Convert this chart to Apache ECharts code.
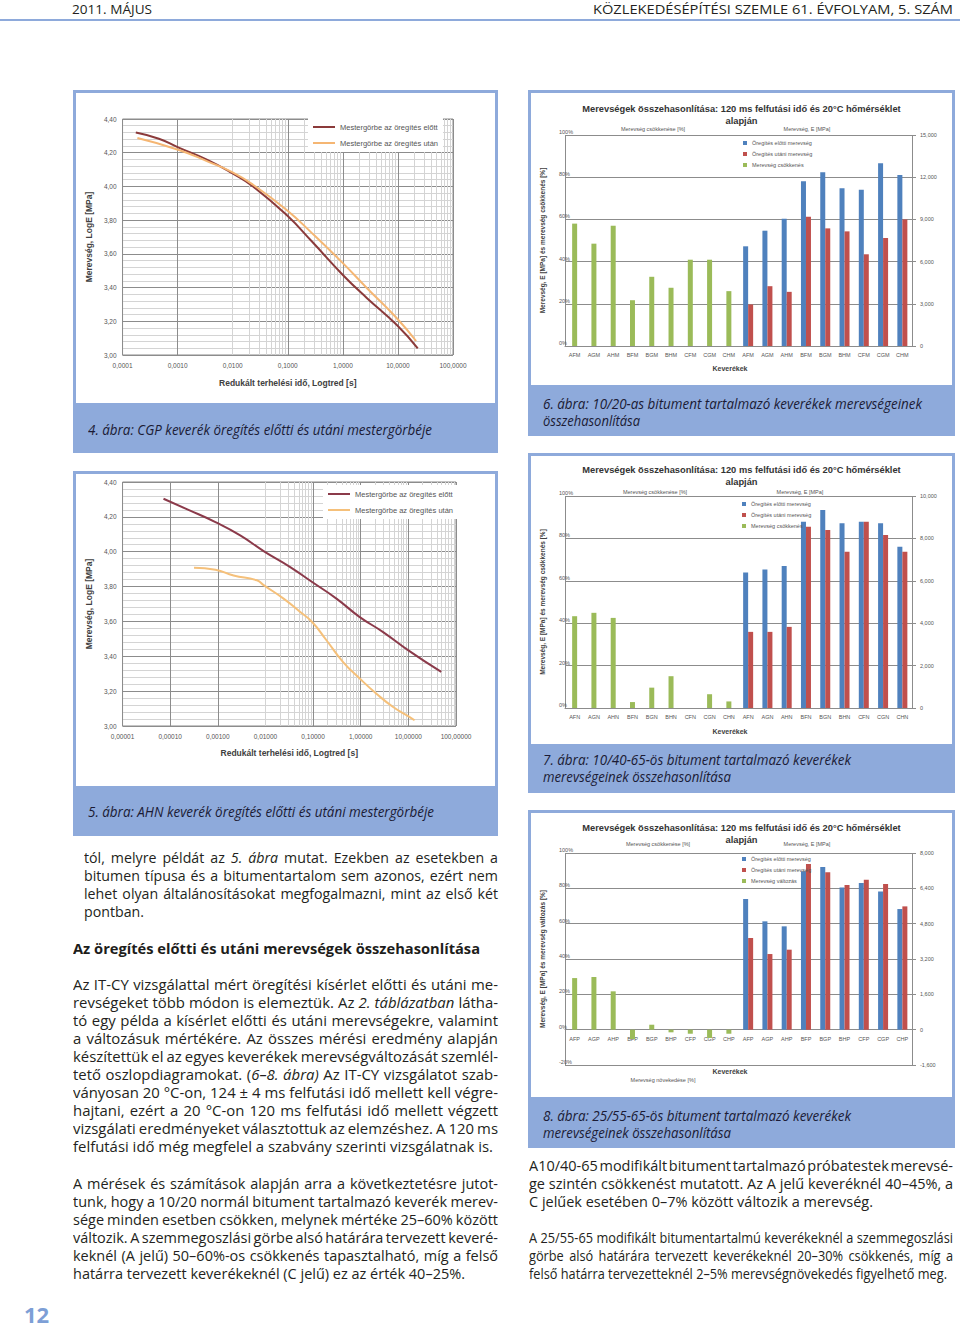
<!DOCTYPE html>
<html><head><meta charset="utf-8">
<script src="https://cdn.jsdelivr.net/npm/echarts@6/dist/echarts.min.js"></script>
<style>
html,body{margin:0;padding:0;background:#fff;}
body{width:960px;height:1331px;position:relative;overflow:hidden;font-family:'Open Sans','Noto Sans',sans-serif;color:#231f20;}
.ln{position:absolute;white-space:nowrap;transform-origin:0 50%;line-height:18px;height:18px;font-size:14px;}
.hdr{font-size:13px;}
.cap{font-style:italic;color:#1b1b35;font-size:14px;}
.head{font-weight:bold;font-size:15px;color:#1d1d1b;}
.frame{position:absolute;background:#8eaadb;}
.inner{position:absolute;background:#fff;}
.chart{position:absolute;}
</style></head><body>
<script>
// ---------- DATA ----------
// Fig. 4 – CGP master curves (reduced loading time [s], log stiffness)
const cgpBeforeT = [0.000174, 0.000457, 0.00102, 0.00347, 0.00977, 0.0234, 0.0955, 0.275, 1.0, 2.75, 9.55, 22.9];
const cgpBeforeE = [4.32, 4.283, 4.232, 4.158, 4.079, 4.0, 3.83, 3.673, 3.475, 3.337, 3.178, 3.04];
const cgpAfterT  = [0.000186, 0.00102, 0.00347, 0.00977, 0.0234, 0.0955, 0.275, 1.0, 2.75, 9.55, 21.4];
const cgpAfterE  = [4.287, 4.218, 4.149, 4.085, 4.01, 3.86, 3.723, 3.545, 3.396, 3.218, 3.083];
// Fig. 5 – AHN master curves
const ahnBeforeT = [0.0000724, 0.000229, 0.000891, 0.00295, 0.00933, 0.0331, 0.0955, 0.309, 0.955, 2.95, 10.0, 49.0];
const ahnBeforeE = [4.304, 4.243, 4.170, 4.094, 4.002, 3.912, 3.826, 3.731, 3.625, 3.539, 3.434, 3.31];
const ahnAfterT  = [0.000316, 0.000891, 0.00214, 0.00661, 0.00933, 0.0240, 0.0537, 0.0955, 0.191, 0.427, 0.955, 2.14, 4.79, 10.5, 13.5];
const ahnAfterE  = [3.908, 3.897, 3.864, 3.836, 3.807, 3.731, 3.654, 3.597, 3.492, 3.367, 3.272, 3.185, 3.109, 3.052, 3.033];
const lineNames = ['Mestergörbe az öregítés előtt', 'Mestergörbe az öregítés után'];

// Fig. 6 – 10/20 bitumen
const fig6Cats  = ['AFM', 'AGM', 'AHM', 'BFM', 'BGM', 'BHM', 'CFM', 'CGM', 'CHM'];
const fig6Green = [58, 48.5, 57, 21.7, 32.8, 27.6, 40.9, 40.9, 26];
const fig6Blue  = [7087, 8197, 9047, 11716, 12354, 11220, 11102, 12992, 12165];
const fig6Red   = [2953, 4252, 3850, 9189, 8362, 8149, 6520, 7677, 9000];
// Fig. 7 – 10/40-65 bitumen
const fig7Cats  = ['AFN', 'AGN', 'AHN', 'BFN', 'BGN', 'BHN', 'CFN', 'CGN', 'CHN'];
const fig7Green = [43.3, 44.9, 42.5, 2.8, 9.6, 15, 0, 6.5, 3.1];
const fig7Blue  = [6394, 6535, 6693, 8788, 9339, 8709, 8788, 8709, 7607];
const fig7Red   = [3591, 3591, 3827, 8552, 8394, 7371, 8788, 8158, 7371];
// Fig. 8 – 25/55-65 bitumen
const fig8Cats  = ['AFP', 'AGP', 'AHP', 'BFP', 'BGP', 'BHP', 'CFP', 'CGP', 'CHP'];
const fig8Green = [29.2, 29.8, 21.7, -5.3, 2.8, -1.5, -2.3, -4.7, -2.3];
const fig8Blue  = [5915, 4905, 4679, 7168, 7364, 6443, 6640, 6262, 5462];
const fig8Red   = [4150, 3425, 3622, 7500, 7123, 6549, 6790, 6594, 5583];
const barNames = ['Öregítés előtti merevség', 'Öregítés utáni merevség'];
</script>

<!-- header -->
<div class="ln hdr" data-w="80" style="left:72px;top:0px">2011. MÁJUS</div>
<div class="ln hdr" data-w="360" style="left:593px;top:0px">KÖZLEKEDÉSÉPÍTÉSI SZEMLE 61. ÉVFOLYAM, 5. SZÁM</div>
<div style="position:absolute;left:0;top:19px;width:960px;height:2px;background:#8eaadb"></div>

<!-- figure frames -->
<div class="frame" style="left:73px;top:90px;width:425px;height:363px"></div>
<div class="inner" style="left:76px;top:93px;width:419px;height:310px"></div>
<div class="frame" style="left:528px;top:90px;width:427px;height:346px"></div>
<div class="inner" style="left:531px;top:93px;width:421px;height:292px"></div>
<div class="frame" style="left:73px;top:471px;width:425px;height:365px"></div>
<div class="inner" style="left:76px;top:474px;width:419px;height:312px"></div>
<div class="frame" style="left:528px;top:453px;width:427px;height:340px"></div>
<div class="inner" style="left:531px;top:456px;width:421px;height:288px"></div>
<div class="frame" style="left:528px;top:810px;width:427px;height:338px"></div>
<div class="inner" style="left:531px;top:813px;width:421px;height:284px"></div>

<div id="c4" class="chart" style="left:76px;top:93px;width:419px;height:310px"></div>
<div id="c6" class="chart" style="left:531px;top:93px;width:421px;height:292px"></div>
<div id="c5" class="chart" style="left:76px;top:474px;width:419px;height:312px"></div>
<div id="c7" class="chart" style="left:531px;top:456px;width:421px;height:288px"></div>
<div id="c8" class="chart" style="left:531px;top:813px;width:421px;height:284px"></div>

<!-- captions -->
<div class="ln cap" data-w="344" style="left:88px;top:421px">4. ábra: CGP keverék öregítés előtti és utáni mestergörbéje</div>
<div class="ln cap" data-w="379" style="left:543px;top:395px">6. ábra: 10/20-as bitument tartalmazó keverékek merevségeinek</div>
<div class="ln cap" data-w="97" style="left:543px;top:412px">összehasonlítása</div>
<div class="ln cap" data-w="346" style="left:88px;top:803px">5. ábra: AHN keverék öregítés előtti és utáni mestergörbéje</div>
<div class="ln cap" data-w="308" style="left:543px;top:751px">7. ábra: 10/40-65-ös bitument tartalmazó keverékek</div>
<div class="ln cap" data-w="188" style="left:543px;top:768px">merevségeinek összehasonlítása</div>
<div class="ln cap" data-w="308" style="left:543px;top:1107px">8. ábra: 25/55-65-ös bitument tartalmazó keverékek</div>
<div class="ln cap" data-w="188" style="left:543px;top:1124px">merevségeinek összehasonlítása</div>

<!-- body text -->
<div class="para" data-left="84" data-top="849" data-w="414" data-last="60">
<div>tól, melyre példát az <i>5. ábra</i> mutat. Ezekben az esetekben a</div>
<div>bitumen típusa és a bitumentartalom sem azonos, ezért nem</div>
<div>lehet olyan általánosításokat megfogalmazni, mint az első két</div>
<div>pontban.</div>
</div>
<div class="ln head" data-w="407" style="left:73px;top:939px">Az öregítés előtti és utáni merevségek összehasonlítása</div>
<div class="para" data-left="73" data-top="976" data-w="425" data-last="420">
<div>Az IT-CY vizsgálattal mért öregítési kísérlet előtti és utáni me-</div>
<div>revségeket több módon is elemeztük. Az <i>2. táblázatban</i> látha-</div>
<div>tó egy példa a kísérlet előtti és utáni merevségekre, valamint</div>
<div>a változásuk mértékére. Az összes mérési eredmény alapján</div>
<div>készítettük el az egyes keverékek merevségváltozását szemlél-</div>
<div>tető oszlopdiagramokat. (<i>6–8. ábra)</i> Az IT-CY vizsgálatot szab-</div>
<div>ványosan 20 °C-on, 124 ± 4 ms felfutási idő mellett kell végre-</div>
<div>hajtani, ezért a 20 °C-on 120 ms felfutási idő mellett végzett</div>
<div>vizsgálati eredményeket választottuk az elemzéshez. A 120 ms</div>
<div>felfutási idő még megfelel a szabvány szerinti vizsgálatnak is.</div>
</div>
<div class="para" data-left="73" data-top="1175" data-w="425" data-last="392">
<div>A mérések és számítások alapján arra a következtetésre jutot-</div>
<div>tunk, hogy a 10/20 normál bitument tartalmazó keverék merev-</div>
<div>sége minden esetben csökken, melynek mértéke 25–60% között</div>
<div>változik. A szemmegoszlási görbe alsó határára tervezett keveré-</div>
<div>keknél (A jelű) 50–60%-os csökkenés tapasztalható, míg a felső</div>
<div>határra tervezett keverékeknél (C jelű) ez az érték 40–25%.</div>
</div>
<div class="para" data-left="529" data-top="1157" data-w="424" data-last="344">
<div>A10/40-65 modifikált bitument tartalmazó próbatestek merevsé-</div>
<div>ge szintén csökkenést mutatott. Az A jelű keveréknél 40–45%, a</div>
<div>C jelűek esetében 0–7% között változik a merevség.</div>
</div>
<div class="para" data-left="529" data-top="1229" data-w="424" data-last="418">
<div>A 25/55-65 modifikált bitumentartalmú keverékeknél a szemmegoszlási</div>
<div>görbe alsó határára tervezett keverékeknél 20–30% csökkenés, míg a</div>
<div>felső határra tervezetteknél 2–5% merevségnövekedés figyelhető meg.</div>
</div>

<div style="position:absolute;left:24px;top:1303px;font-size:22px;font-weight:bold;color:#7d9fd6;line-height:22px;height:22px;font-family:'Open Sans',sans-serif">12</div>

<script>
// ---------- text fitting ----------
function natW(el){ return el.getBoundingClientRect().width; }
document.querySelectorAll('.ln').forEach(el => {
  el.style.display = 'inline-block';
  const w0 = natW(el);
  el.style.transform = 'scaleX(' + (parseFloat(el.dataset.w) / w0) + ')';
});
document.querySelectorAll('.para').forEach(p => {
  const left = +p.dataset.left, top = +p.dataset.top, W = +p.dataset.w, lastW = +p.dataset.last;
  const lines = Array.from(p.children);
  lines.forEach((el, i) => {
    el.className = 'ln';
    el.style.left = left + 'px';
    el.style.top = (top + 18 * i) + 'px';
    el.style.display = 'inline-block';
  });
  const last = lines[lines.length - 1];
  const s = lastW / natW(last);
  lines.forEach((el, i) => {
    if (i < lines.length - 1) {
      const w0 = natW(el);
      const n = (el.textContent.match(/ /g) || []).length;
      el.style.wordSpacing = ((W / s - w0) / n) + 'px';
    }
    el.style.transform = 'scaleX(' + s + ')';
  });
});

// ---------- charts ----------
const FONT = "'Liberation Sans', Arial, sans-serif";
function zip(a, b) { return a.map((v, i) => [v, b[i]]); }
function decFmt(v, d) { return v.toFixed(d).replace('.', ','); }
function logMinor(minExp, maxExp) {
  const out = [];
  for (let e = minExp; e < maxExp; e++) for (let k = 2; k <= 9; k++) out.push({ xAxis: k * Math.pow(10, e) });
  return out;
}
function lineOption(p) {
  return {
    animation: false,
    textStyle: { fontFamily: FONT },
    grid: { left: p.grid[0], top: p.grid[1], width: p.grid[2], height: p.grid[3], show: true, borderColor: '#8a8a8a', borderWidth: 1 },
    legend: {
      orient: 'vertical', left: p.legend[0], top: p.legend[1], z: 20, icon: 'rect',
      backgroundColor: '#fff', itemWidth: 22, itemHeight: 2, itemGap: 8, padding: [5, 5],
      textStyle: { fontSize: 7.5, color: '#555' }, data: lineNames
    },
    xAxis: {
      type: 'log', logBase: 10, min: p.xMin, max: p.xMax,
      name: 'Redukált terhelési idő, Logtred [s]', nameLocation: 'middle', nameGap: p.xGap,
      nameTextStyle: { fontWeight: 'bold', fontSize: 8.5, color: '#404040' },
      axisLine: { show: false }, axisTick: { show: false },
      axisLabel: { fontSize: 6.5, color: '#555', margin: 7, formatter: v => decFmt(v, p.dec) },
      splitLine: { show: true, lineStyle: { color: '#8c8c8c', width: 1 } }
    },
    yAxis: {
      type: 'value', min: 3, max: 4.4, interval: 0.2,
      name: 'Merevség, LogE [MPa]', nameLocation: 'middle', nameGap: p.yGap,
      nameTextStyle: { fontWeight: 'bold', fontSize: 8.5, color: '#404040' },
      axisLine: { show: false }, axisTick: { show: false },
      axisLabel: { fontSize: 6.5, color: '#555', margin: 6, formatter: v => decFmt(v, 2) },
      splitLine: { lineStyle: { color: '#8c8c8c' } },
      minorTick: { show: false, splitNumber: 5 },
      minorSplitLine: { show: true, lineStyle: { color: '#d4d4d4' } }
    },
    series: [
      {
        name: lineNames[0], type: 'line', smooth: true, symbol: 'none', z: 10,
        data: zip(p.bT, p.bE), lineStyle: { color: p.c1, width: 2 }, itemStyle: { color: p.c1 },
        markLine: { silent: true, symbol: 'none', label: { show: false }, animation: false,
          lineStyle: { color: '#d4d4d4', type: 'solid', width: 1 }, data: logMinor(p.minExp, p.maxExp) }
      },
      {
        name: lineNames[1], type: 'line', smooth: true, symbol: 'none', z: 10,
        data: zip(p.aT, p.aE), lineStyle: { color: p.c2, width: 2 }, itemStyle: { color: p.c2 }
      }
    ]
  };
}
function barOption(p) {
  const n = p.cats.length;
  const pad = Array(n).fill('-');
  const cats = p.cats.concat(p.cats);
  // distance from the bottom of the grid to the zero line of the left axis
  const zeroOffset = p.lMin < 0 ? -p.gridH * (-p.lMin) / (100 - p.lMin) : 0;
  const txt = (t, x, y, extra) => ({ type: 'text', x: x, y: y, silent: true,
    style: Object.assign({ text: t, fontSize: 5.5, fill: '#555', fontFamily: FONT, align: 'center', verticalAlign: 'middle' }, extra || {}) });
  const g = [
    txt('Merevség csökkenése [%]', p.topLbl[0], p.topLbl[2]),
    txt('Merevség, E [MPa]', p.topLbl[1], p.topLbl[2]),
    txt('Keverékek', 199, p.kev, { fontSize: 7, fontWeight: 'bold', fill: '#404040' })
  ];
  if (p.bottomLbl) g.push(txt(p.bottomLbl[0], p.bottomLbl[1], p.bottomLbl[2]));
  return {
    animation: false,
    textStyle: { fontFamily: FONT },
    title: {
      text: 'Merevségek összehasonlítása: 120 ms felfutási idő és 20°C hőmérséklet\nalapján',
      left: 'center', top: p.titleTop, padding: 0,
      textStyle: { fontSize: 9.3, fontWeight: 'bold', color: '#333', lineHeight: 12, align: 'center' }
    },
    legend: {
      orient: 'vertical', left: p.legend[0], top: p.legend[1], icon: 'rect',
      itemWidth: 4, itemHeight: 4, itemGap: 5, padding: 0,
      textStyle: { fontSize: 5.5, color: '#555' }, data: [barNames[0], barNames[1], p.greenName]
    },
    grid: { left: 32, top: p.gridTop, width: 349, height: p.gridH },
    xAxis: [
      { type: 'category', data: cats, offset: zeroOffset,
        axisLine: { onZero: false, lineStyle: { color: '#8c8c8c' } }, axisTick: { show: false },
        axisLabel: { fontSize: 5.5, color: '#555', interval: 0, margin: 6 },
        splitLine: { show: true, interval: (i) => i === n, lineStyle: { color: '#8c8c8c' } } },
      { type: 'category', data: cats, show: false, position: 'bottom', axisLine: { onZero: false } }
    ],
    yAxis: [
      { type: 'value', min: p.lMin, max: 100, interval: 20,
        name: p.yName, nameLocation: 'middle', nameGap: 19,
        nameTextStyle: { fontSize: 6.5, fontWeight: 'bold', color: '#404040' },
        axisLine: { show: false }, axisTick: { show: false },
        axisLabel: { formatter: '{value}%', fontSize: 5.5, color: '#555', align: 'left', verticalAlign: 'bottom', margin: 6 },
        splitLine: { lineStyle: { color: '#8c8c8c' } } },
      { type: 'value', position: 'right', min: p.rMin, max: p.rMax, interval: p.rInt,
        axisLine: { show: false, onZero: false }, axisTick: { show: true, length: 4, lineStyle: { color: '#8c8c8c' } },
        axisLabel: { fontSize: 5.5, color: '#555', margin: 8 }, splitLine: { show: false } }
    ],
    series: [
      { name: p.greenName, type: 'bar', xAxisIndex: 0, yAxisIndex: 0, barWidth: 5,
        data: p.green.concat(pad), itemStyle: { color: '#9BBB59' } },
      { name: barNames[0], type: 'bar', xAxisIndex: 1, yAxisIndex: 1, barWidth: 5, barGap: '0%',
        data: pad.concat(p.blue), itemStyle: { color: '#4F81BD' } },
      { name: barNames[1], type: 'bar', xAxisIndex: 1, yAxisIndex: 1, barWidth: 5, barGap: '0%',
        data: pad.concat(p.red), itemStyle: { color: '#C0504D' } }
    ],
    graphic: g
  };
}
function mk(id, opt) {
  const c = echarts.init(document.getElementById(id), null, { renderer: 'svg' });
  c.setOption(opt);
}
mk('c4', lineOption({ grid: [38, 26, 339, 236], legend: [232, 25], xMin: 0.0001, xMax: 100, dec: 4,
  minExp: -4, maxExp: 2, xGap: 23, yGap: 26, bT: cgpBeforeT, bE: cgpBeforeE, aT: cgpAfterT, aE: cgpAfterE,
  c1: '#8b3a3a', c2: '#f5b673' }));
mk('c5', lineOption({ grid: [44, 8, 336, 244], legend: [247, 11], xMin: 0.00001, xMax: 100, dec: 5,
  minExp: -5, maxExp: 2, xGap: 22, yGap: 29, bT: ahnBeforeT, bE: ahnBeforeE, aT: ahnAfterT, aE: ahnAfterE,
  c1: '#8b3a4a', c2: '#f5c07a' }));
const yNameBar = 'Merevség, E [MPa] és merevség csökkenés [%]';
mk('c6', barOption({ cats: fig6Cats, green: fig6Green, blue: fig6Blue, red: fig6Red, greenName: 'Merevség csökkenés',
  lMin: 0, rMin: 0, rMax: 15000, rInt: 3000, gridTop: 42, gridH: 211, titleTop: 10, legend: [212, 47],
  topLbl: [122, 276, 36], kev: 275, yName: yNameBar }));
mk('c7', barOption({ cats: fig7Cats, green: fig7Green, blue: fig7Blue, red: fig7Red, greenName: 'Merevség csökkenés',
  lMin: 0, rMin: 0, rMax: 10000, rInt: 2000, gridTop: 40, gridH: 212, titleTop: 8, legend: [211, 45],
  topLbl: [124, 269, 36], kev: 275, yName: yNameBar }));
mk('c8', barOption({ cats: fig8Cats, green: fig8Green, blue: fig8Blue, red: fig8Red, greenName: 'Merevség változás',
  lMin: -20, rMin: -1600, rMax: 8000, rInt: 1600, gridTop: 40, gridH: 212, titleTop: 9, legend: [211, 43],
  topLbl: [127, 276, 31], kev: 258, bottomLbl: ['Merevség növekedése [%]', 132, 267],
  yName: 'Merevség, E [MPa] és merevség változás [%]' }));
</script>
</body></html>
